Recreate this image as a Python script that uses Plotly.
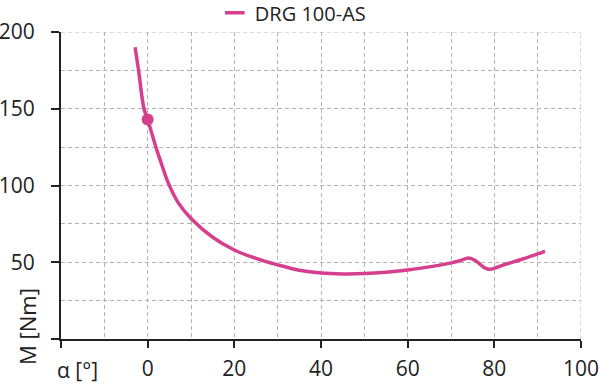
import plotly.graph_objects as go

# Data
alpha = [-2.9, -2.1, -0.85, 0, 1.9, 3.2, 4.7, 7.0, 10, 15, 20, 25, 30, 35, 40, 45, 50, 55, 60, 65, 70, 72, 74.1, 75.6, 77.9, 79.1, 82.5, 86, 90, 91.7]
torque = [190, 175, 150, 143, 125, 114, 102, 89, 78.5, 66.3, 58, 52.5, 48.3, 44.8, 43, 42.4, 42.6, 43.5, 45, 47, 49.6, 51, 52.7, 51.1, 46.2, 45.5, 48.6, 51.6, 55.4, 57.3]
marker_x = [0]
marker_y = [143]
series_name = "DRG 100-AS"
x_ticks = [-20, 0, 20, 40, 60, 80, 100]
x_ticklabels = ["", "0", "20", "40", "60", "80", "100"]
y_ticks = [0, 50, 100, 150, 200]
y_ticklabels = ["", "50", "100", "150", "200"]

color = "#d63f8e"
font = "Open Sans"
txt = "#222222"
gridc = "#b3b3b3"
dash = "4px,3px"

fig = go.Figure()
fig.add_trace(go.Scatter(x=alpha, y=torque, mode="lines", line=dict(color=color, width=3.5, shape="spline", smoothing=1.0),
                         showlegend=False, hoverinfo="skip"))
fig.add_trace(go.Scatter(x=marker_x, y=marker_y, mode="markers", marker=dict(color=color, size=12),
                         showlegend=False))
fig.add_trace(go.Scatter(x=[None], y=[None], mode="markers", name=series_name,
                         marker=dict(symbol="line-ew", size=14, line=dict(color=color, width=3.5))))

grid = dict(showgrid=True, gridcolor=gridc, gridwidth=1, griddash=dash)
fig.update_xaxes(range=[-20, 100], tickmode="array", tickvals=x_ticks, ticktext=x_ticklabels,
                 ticks="outside", ticklen=7, tickwidth=2, tickcolor=txt,
                 showline=True, linecolor=txt, linewidth=2, zeroline=False,
                 minor=dict(dtick=10, showgrid=True, gridcolor=gridc, griddash=dash, ticks=""),
                 ticklabelstandoff=3, ticklabeloverflow="allow",
                 tickfont=dict(family=font, size=21, color=txt), **grid)
fig.update_yaxes(range=[0, 200], tickmode="array", tickvals=y_ticks, ticktext=y_ticklabels,
                 ticks="outside", ticklen=8, tickwidth=2, tickcolor=txt,
                 showline=True, linecolor=txt, linewidth=2, zeroline=False,
                 minor=dict(dtick=25, showgrid=True, gridcolor=gridc, griddash=dash, ticks=""),
                 ticklabelstandoff=12, ticklabeloverflow="allow",
                 tickfont=dict(family=font, size=21, color=txt), **grid)

# Edge grid lines (top and right)
fig.add_shape(type="line", xref="x", yref="y", x0=x_ticks[0], x1=x_ticks[-1], y0=y_ticks[-1], y1=y_ticks[-1],
              line=dict(color=gridc, width=1, dash=dash), layer="below")
fig.add_shape(type="line", xref="x", yref="y", x0=x_ticks[-1], x1=x_ticks[-1], y0=y_ticks[0], y1=y_ticks[-1],
              line=dict(color=gridc, width=1, dash=dash), layer="below")

fig.add_annotation(text="M [Nm]", xref="paper", yref="paper", x=-0.065, y=0.04, textangle=-90,
                   showarrow=False, font=dict(family=font, size=22, color=txt), xanchor="center", yanchor="middle")
fig.add_annotation(text="α [°]", xref="paper", yref="paper", x=0.031, y=-0.1,
                   showarrow=False, font=dict(family=font, size=21, color=txt), xanchor="center", yanchor="middle")

fig.update_layout(width=600, height=385, paper_bgcolor="white", plot_bgcolor="white",
                  margin=dict(l=61, r=19, t=32, b=46, autoexpand=False),
                  font=dict(family=font, color=txt),
                  legend=dict(orientation="h", xref="container", yref="container", x=0.358, xanchor="left",
                              y=0.967, yanchor="middle",
                              font=dict(family=font, size=20, color=txt), bgcolor="rgba(0,0,0,0)",
                              itemwidth=30))
fig.write_html("out.html")
